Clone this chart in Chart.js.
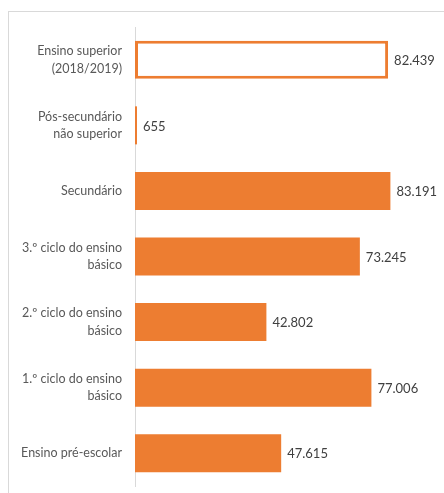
<!DOCTYPE html>
<html>
<head>
<meta charset="utf-8">
<script src="https://cdn.jsdelivr.net/npm/chart.js@4"></script>
<style>
  html, body { margin: 0; padding: 0; background: #fff; }
  #wrap { position: relative; width: 444px; height: 493px; overflow: hidden; }
  #frame { position: absolute; left: 8px; top: 11px; width: 460px; height: 500px;
           border-top: 1px solid #d9d9d9; border-left: 1px solid #d9d9d9; }
  canvas { position: absolute; left: 0; top: 0; }
</style>
</head>
<body>
<div id="wrap">
  <div id="frame"></div>
  <canvas id="chart" width="444" height="493"></canvas>
</div>
<script>
const categories = [
    ['Ensino superior', '(2018/2019)'],
    ['Pós-secundário', 'não superior'],
    'Secundário',
    ['3.º ciclo do ensino', 'básico'],
    ['2.º ciclo do ensino', 'básico'],
    ['1.º ciclo do ensino', 'básico'],
    'Ensino pré-escolar'
];
const values = [82439, 655, 83191, 73245, 42802, 77006, 47615];

const orange = '#ED7D31';
const fills = values.map((v, i) => i === 0 ? '#ffffff' : orange);
const borders = values.map((v, i) => i === 0 ? 3 : 0);

function fmt(n) {
    return String(n).replace(/\B(?=(\d{3})+(?!\d))/g, '.');
}

const valueLabels = {
    id: 'valueLabels',
    afterDatasetsDraw(chart) {
        const ctx = chart.ctx;
        const meta = chart.getDatasetMeta(0);
        ctx.save();
        ctx.font = '13px Lato, "Open Sans", sans-serif';
        ctx.fillStyle = '#404040';
        ctx.textAlign = 'left';
        ctx.textBaseline = 'middle';
        meta.data.forEach((bar, i) => {
            ctx.fillText(fmt(values[i]), bar.x + 6, bar.y + 1);
        });
        ctx.restore();
    }
};

new Chart(document.getElementById('chart'), {
    type: 'bar',
    data: {
        labels: categories,
        datasets: [{
            data: values,
            backgroundColor: fills,
            borderColor: orange,
            borderWidth: borders,
            borderSkipped: false,
            categoryPercentage: 1,
            barPercentage: 0.58
        }]
    },
    options: {
        indexAxis: 'y',
        responsive: false,
        animation: false,
        layout: { padding: { left: 0, top: 27, right: 2, bottom: 7 } },
        plugins: {
            legend: { display: false },
            tooltip: { enabled: false }
        },
        scales: {
            x: {
                display: false,
                min: 0,
                max: 100000
            },
            y: {
                grid: { display: false, drawTicks: false },
                border: { display: true, color: '#d9d9d9', width: 1 },
                ticks: {
                    color: '#595959',
                    padding: 13,
                    font: { family: 'Lato, "Open Sans", sans-serif', size: 12.5, lineHeight: 1.4 }
                },
                afterFit(scale) {
                    scale.width = 135;
                    scale.paddingTop = 0;
                    scale.paddingBottom = 0;
                }
            }
        }
    },
    plugins: [valueLabels]
});
</script>
</body>
</html>
